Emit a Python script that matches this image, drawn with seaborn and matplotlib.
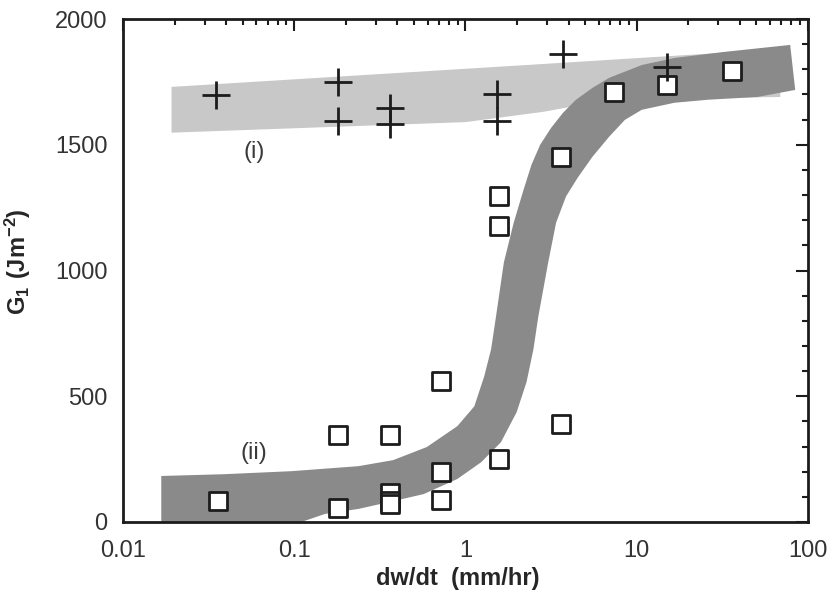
import numpy as np
import matplotlib
matplotlib.use("Agg")
import matplotlib.pyplot as plt
from matplotlib.ticker import LogLocator, MultipleLocator, NullFormatter
import seaborn as sns

# Crack opening rate dw/dt (mm/hr) against fracture energy G1 (J m^-2)
plus_rate = [0.035, 0.18, 0.18, 0.36, 0.36, 1.52, 1.52, 3.7, 15]
plus_g1 = [1698, 1750, 1595, 1647, 1583, 1702, 1595, 1861, 1810]

square_rate = [0.036, 0.18, 0.18, 0.36, 0.36, 0.36, 0.36, 0.72, 0.72, 0.72,
               1.56, 1.56, 1.56, 3.6, 3.6, 7.4, 15, 36]
square_g1 = [83, 56, 345, 345, 115, 83, 71, 560, 198, 88,
             250, 1298, 1175, 389, 1452, 1710, 1738, 1794]

# Band (i): scatter range of the "+" series
band_i_upper_rate = [0.0192, 2.27, 68.9]
band_i_upper_g1 = [1730, 1817, 1880]
band_i_lower_rate = [0.0192, 1.0, 2.85, 6.9, 68.9]
band_i_lower_g1 = [1548, 1590, 1631, 1679, 1690]

# Band (ii): transition band of the square series
band_ii_upper_rate = [0.01673, 0.0388, 0.096, 0.237, 0.378, 0.594, 0.896, 1.126,
                      1.286, 1.411, 1.507, 1.675, 1.912, 2.183, 2.43, 2.73,
                      3.16, 3.71, 4.40, 5.51, 6.90, 10.7, 16.6, 32.3, 78.7]
band_ii_upper_g1 = [183, 190, 202, 222, 246, 298, 381, 460,
                    579, 687, 817, 1032, 1190, 1321, 1421, 1500,
                    1567, 1627, 1678, 1726, 1766, 1817, 1845, 1869, 1897]
band_ii_lower_rate = [0.01673, 0.110, 0.151, 0.237, 0.378, 0.570, 0.896, 1.236,
                      1.610, 1.990, 2.271, 2.493, 2.662, 3.04, 3.38, 3.86,
                      4.52, 5.51, 6.90, 8.53, 10.7, 16.6, 26.1, 50.7, 84.2]
band_ii_lower_g1 = [0, 0, 32, 52, 83, 111, 171, 238,
                    317, 437, 556, 687, 817, 1032, 1190, 1294,
                    1369, 1452, 1532, 1599, 1639, 1667, 1679, 1690, 1718]

x_ticks = [0.01, 0.1, 1, 10, 100]
x_tick_labels = ["0.01", "0.1", "1", "10", "100"]
y_ticks = [0, 500, 1000, 1500, 2000]

sns.set_style("white")
plt.rcParams["font.family"] = ["Liberation Sans", "DejaVu Sans"]
plt.rcParams["mathtext.fontset"] = "custom"
plt.rcParams["mathtext.rm"] = "Liberation Sans"
plt.rcParams["mathtext.bf"] = "Liberation Sans:bold"

fig = plt.figure(figsize=(8.28, 6.02), dpi=100)
ax = fig.add_axes([123 / 828, 80 / 602, 685 / 828, 503 / 602])

# shaded bands
ax.fill(np.r_[band_i_upper_rate, band_i_lower_rate[::-1]],
        np.r_[band_i_upper_g1, band_i_lower_g1[::-1]],
        color="#c8c8c8", lw=0, zorder=1)
ax.fill(np.r_[band_ii_upper_rate, band_ii_lower_rate[::-1]],
        np.r_[band_ii_upper_g1, band_ii_lower_g1[::-1]],
        color="#8a8a8a", lw=0, zorder=2)

sns.scatterplot(x=square_rate, y=square_g1, marker="s", s=175,
                facecolor="white", edgecolor="#1c1c1c", linewidth=2.0,
                ax=ax, zorder=4)
sns.scatterplot(x=plus_rate, y=plus_g1, marker="+", s=380,
                color="#1c1c1c", linewidth=2.0, ax=ax, zorder=5)

ax.text(0.058, 1472, "(i)", fontsize=17, color="#3a3a3a",
        ha="center", va="center", zorder=6)
ax.text(0.058, 274, "(ii)", fontsize=17, color="#3a3a3a",
        ha="center", va="center", zorder=6)

ax.set_xscale("log")
ax.set_xlim(0.01, 100)
ax.set_ylim(0, 2000)
ax.set_xticks(x_ticks)
ax.set_xticklabels(x_tick_labels)
ax.xaxis.set_minor_locator(LogLocator(base=10, subs=np.arange(2, 10)))
ax.xaxis.set_minor_formatter(NullFormatter())
ax.set_yticks(y_ticks)
ax.set_yticklabels([str(v) for v in y_ticks])
ax.yaxis.set_minor_locator(MultipleLocator(100))

ax.tick_params(which="both", direction="in", top=True, right=True,
               color="#1c1c1c", width=1.5)
ax.tick_params(which="major", length=8.5, labelsize=17, labelcolor="#333333")
ax.tick_params(axis="x", which="major", pad=13)
ax.tick_params(axis="y", which="major", pad=11)
ax.tick_params(which="minor", length=4.5)

for side in ax.spines.values():
    side.set_linewidth(2.0)
    side.set_color("#1c1c1c")
    side.set_zorder(7)

ax.set_xlabel("dw/dt  (mm/hr)", fontsize=17, fontweight="bold")
ax.set_ylabel(r"$\mathbf{G_1\ (Jm^{-2})}$", fontsize=17)
ax.xaxis.set_label_coords(0.489, -0.09)
ax.yaxis.set_label_coords(-0.131, 0.517)

fig.savefig("out.png", dpi=100)
